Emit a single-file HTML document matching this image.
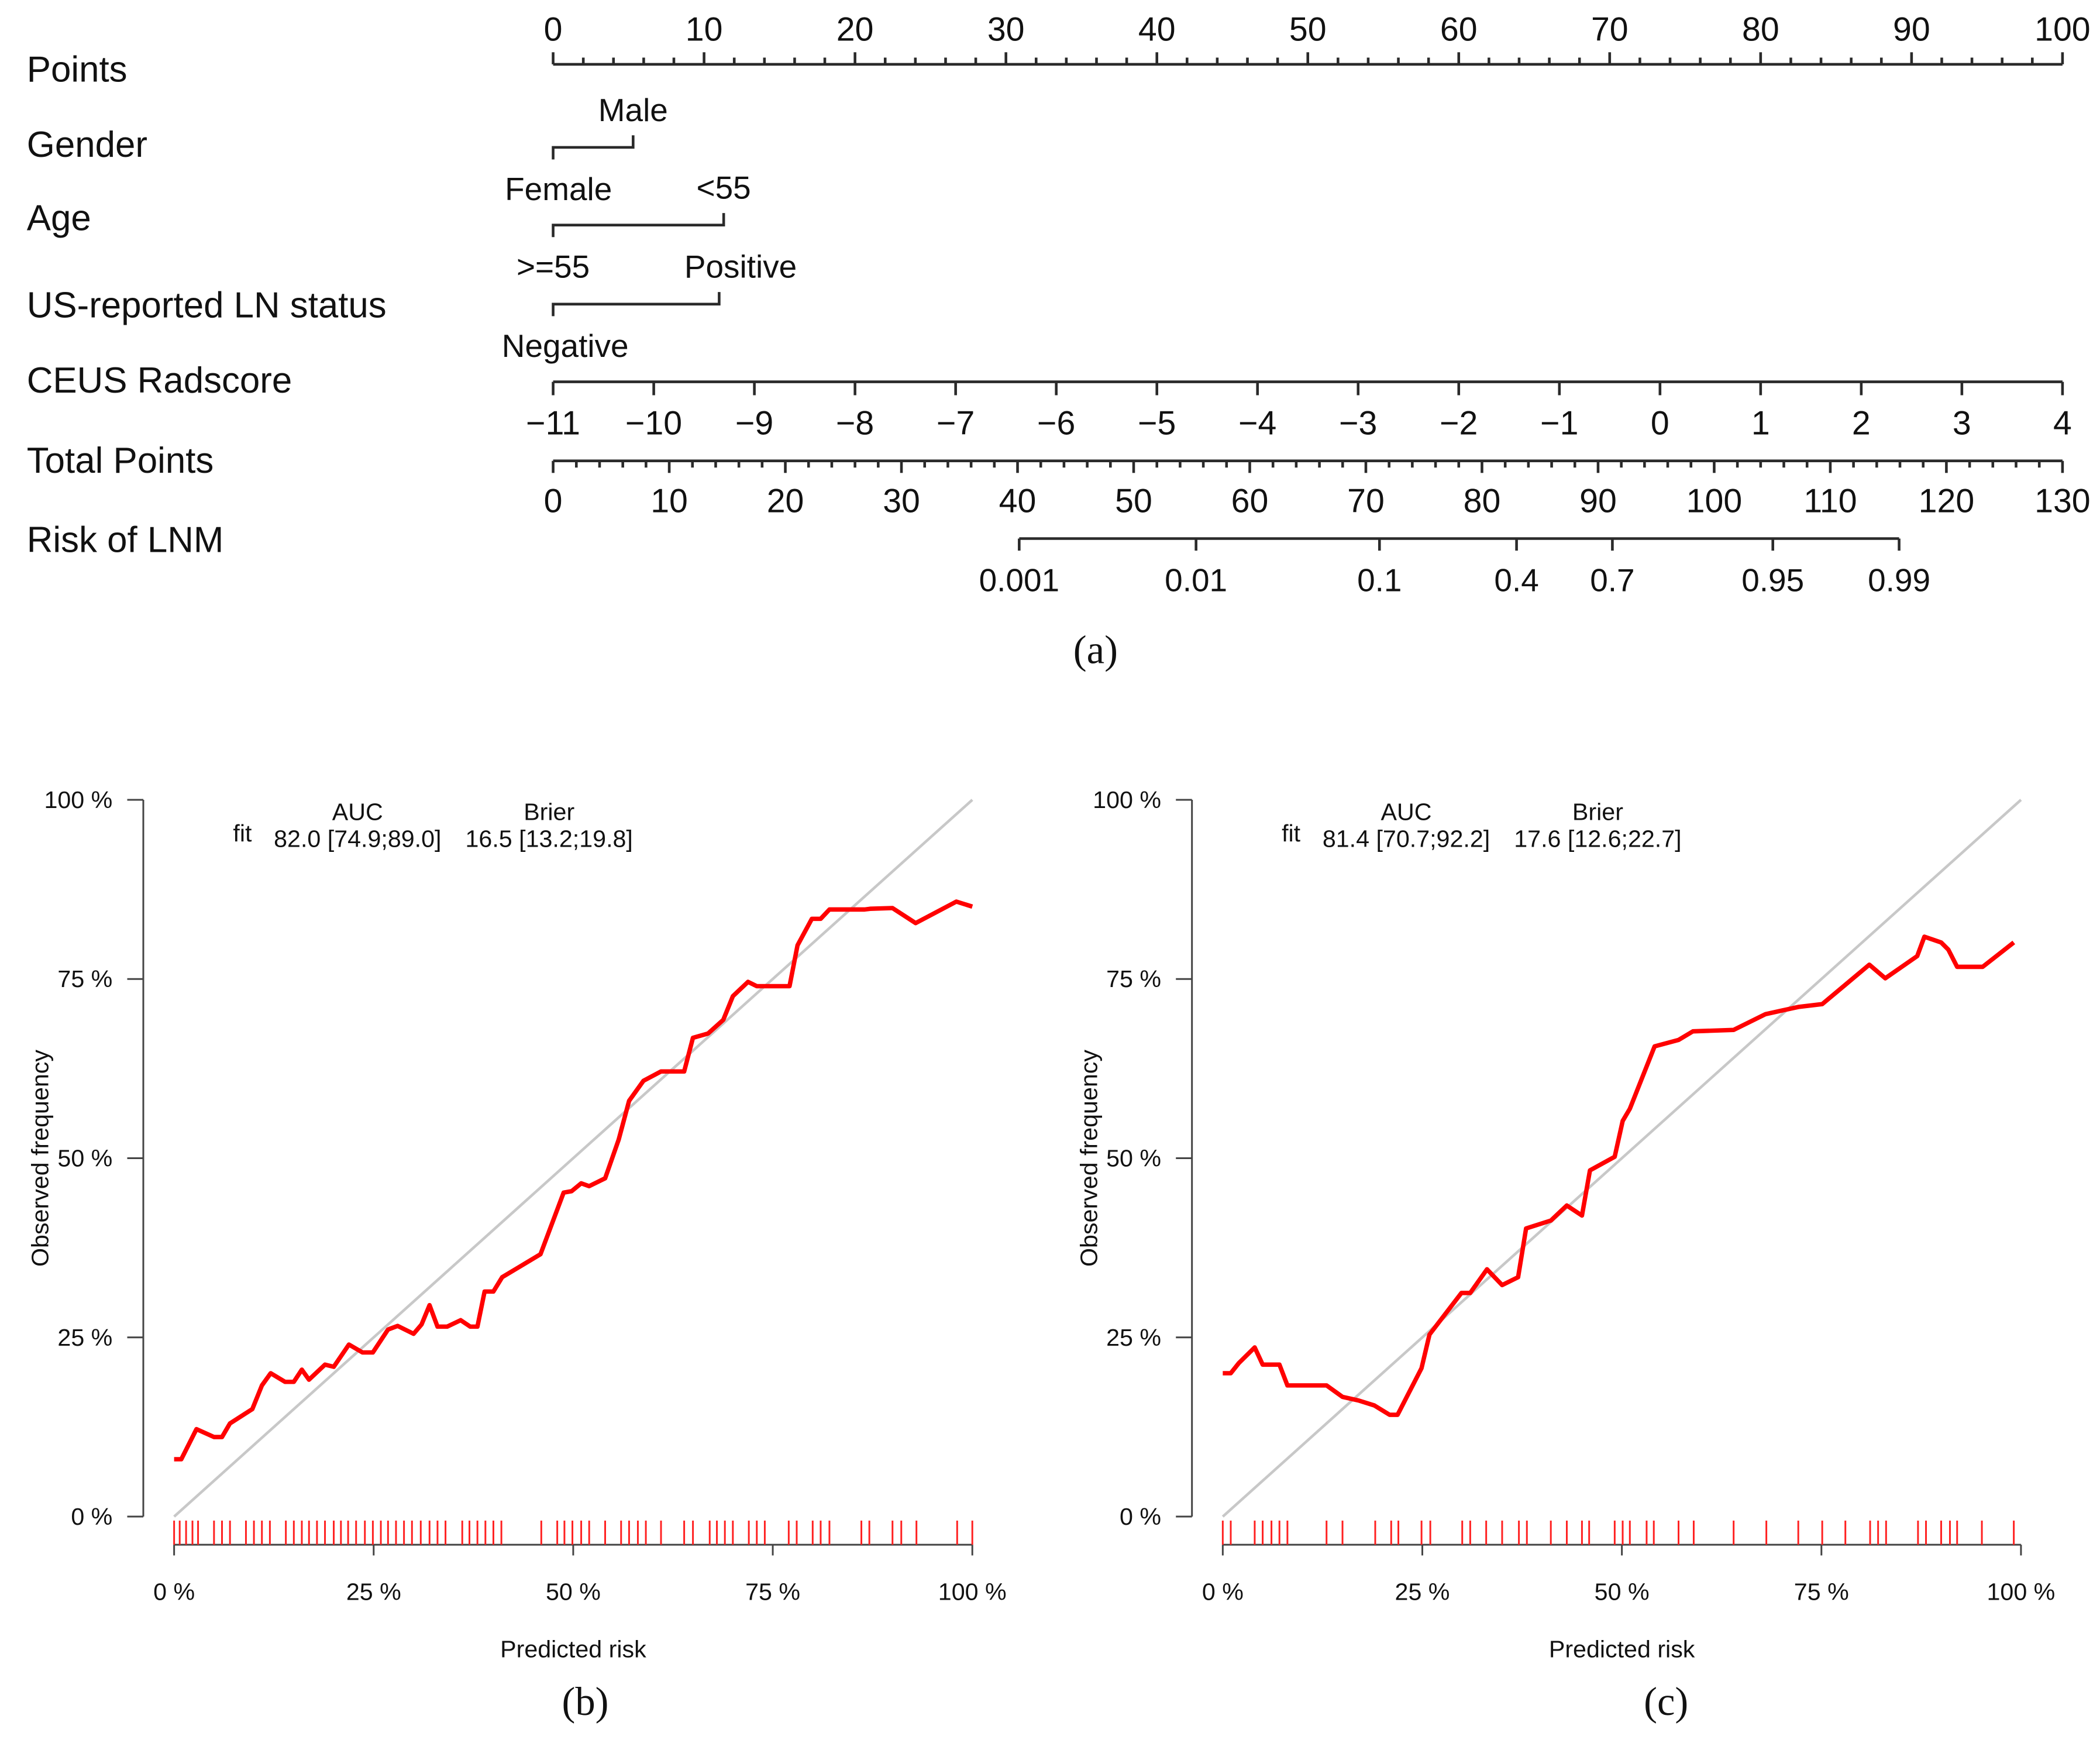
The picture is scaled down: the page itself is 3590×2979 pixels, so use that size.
<!DOCTYPE html>
<html><head><meta charset="utf-8"><style>
html,body{margin:0;padding:0;background:#fff;}
svg{display:block;}
text{font-family:"Liberation Sans",Arial,sans-serif;fill:#111;}
.serif{font-family:"Liberation Serif",serif;}
</style></head><body>
<svg id="fig" xmlns="http://www.w3.org/2000/svg" width="3590" height="2979" viewBox="0 0 1568 1301" preserveAspectRatio="none">
<rect width="1568" height="1301" fill="#fff"/>
<g id="nomo"></g>
<g id="calB"></g>
<g id="calC"></g>
<text class="serif" x="818" y="485" font-size="30" text-anchor="middle" dominant-baseline="central">(a)</text>
<text class="serif" x="437" y="1270" font-size="30" text-anchor="middle" dominant-baseline="central">(b)</text>
<text class="serif" x="1244" y="1270" font-size="30" text-anchor="middle" dominant-baseline="central">(c)</text>
</svg>
<script>
// ---------- Nomogram data ----------
const pointsTicks = [0,10,20,30,40,50,60,70,80,90,100];
const radscoreTicks = [-11,-10,-9,-8,-7,-6,-5,-4,-3,-2,-1,0,1,2,3,4];
const totalTicks = [0,10,20,30,40,50,60,70,80,90,100,110,120,130];
const riskTicks = [0.001,0.01,0.1,0.4,0.7,0.95,0.99];
const riskTickLabels = ["0.001","0.01","0.1","0.4","0.7","0.95","0.99"];
const genderPoints = [0,5.3];      // Female, Male
const agePoints = [0,11.3];        // >=55, <55
const usPoints = [0,11];           // Negative, Positive

// ---------- Calibration data (b) ----------
const predB = [0,0.9,2.8,5,6,7,9.8,11,12.1,13.9,15,16,16.9,18.9,20,21.9,23.6,24.9,26.8,28,30,31,32,33,34.2,35.9,37.1,38,38.9,40,41.1,45.9,48.8,49.8,51,52,54,55.7,57,58.8,61,63.9,65,66.9,68.8,70,71.9,73,77.1,78.1,79.9,81,82.1,86.5,87.2,90,92.9,98,100];
const obsB  = [8,8,12.2,11.1,11.1,13,15,18.3,20,18.8,18.8,20.5,19.1,21.2,20.9,24,22.9,22.9,26.1,26.6,25.5,26.8,29.5,26.5,26.5,27.4,26.5,26.5,31.4,31.4,33.4,36.6,45.2,45.4,46.5,46.1,47.2,52.6,58,60.8,62.1,62.1,66.8,67.4,69.3,72.6,74.6,74,74,79.7,83.4,83.4,84.7,84.7,84.8,84.9,82.8,85.8,85.1];
const rugB = [0,0.7,1.5,2.3,3,5,6,7,9,10,11,12,14,15,16,16.9,17.9,18.9,20,20.9,21.8,22.8,23.9,24.9,25.9,26.8,27.8,28.8,29.8,30.9,32,33,34,36.1,37,38,39,40,41,46,48,48.9,49.9,51,52,54,56,57,58.1,59.1,61,63.9,65,67.1,68,69,70,72,73,74,77,78,80,81,82.1,86.1,87.1,90,91.1,93,98.1,100];
const statsB = ["82.0 [74.9;89.0]","16.5 [13.2;19.8]"];

// ---------- Calibration data (c) ----------
const predC = [0,1,2,4,5,7.1,8.1,13,15,17,19,20.9,21.9,24.9,25.9,29.9,31,33.1,35,37,38,41.1,43.1,45,46,49.1,50.1,51,54.1,57.1,58.9,64,68,72.1,75.1,78,81,83,87,87.9,90,90.9,92,95.2,99.1];
const obsC  = [20,20,21.4,23.6,21.2,21.2,18.3,18.3,16.7,16.2,15.5,14.2,14.2,20.7,25.4,31.2,31.2,34.5,32.3,33.4,40.2,41.3,43.4,42,48.3,50.2,55.2,56.9,65.6,66.5,67.7,67.9,70.1,71.1,71.5,74.2,77,75.1,78.2,80.9,80.1,79.1,76.7,76.7,80.1];
const rugC = [0,1,4,5,6.1,7.1,8.1,13,15,19.1,21.1,22,24.9,26,30,31,33,35,37.1,38.1,41.1,43.1,45,45.9,49.1,50.1,51,53.1,54,57.1,59,64,68.1,72.1,75.1,78,81.1,82.1,83.1,87.1,88.1,90,91.1,92,95.1,99.1];
const statsC = ["81.4 [70.7;92.2]","17.6 [12.6;22.7]"];
const yTickVals = [0,25,50,75,100];
const xTickVals = [0,25,50,75,100];

const NS = "http://www.w3.org/2000/svg";
function mk(parent, tag, attrs, txt){
  const e = document.createElementNS(NS, tag);
  for (const k in attrs) e.setAttribute(k, attrs[k]);
  if (txt !== undefined) e.textContent = txt;
  parent.appendChild(e);
  return e;
}

// ---------- draw nomogram ----------
(function(){
  const g = document.getElementById('nomo');
  const X0 = 413, X1 = 1540;
  const px = v => X0 + (X1 - X0) * v / 100;
  const rx = v => X0 + (X1 - X0) * (v + 11) / 15;
  const tx = v => X0 + (X1 - X0) * v / 130;
  const logit = p => Math.log(p / (1 - p));
  const riskx = p => 761 + (logit(p) - logit(0.001)) * (1418 - 761) / (logit(0.99) - logit(0.001));
  const st = {stroke:'#2a2a2a','stroke-width':2,fill:'none'};

  const rows = [["Points",52],["Gender",108],["Age",163],["US-reported LN status",228],["CEUS Radscore",284],["Total Points",344],["Risk of LNM",403]];
  rows.forEach(r=>{
    const t = mk(g,'text',{x:20,y:r[1],'font-size':27,'dominant-baseline':'central'},r[0]);
    
    
  });

  const pl = mk(g,'line',Object.assign({x1:X0,y1:48,x2:X1,y2:48},st));
  
  
  for (let v=0; v<=100; v+=2){
    const maj = v%10===0;
    const l = mk(g,'line',Object.assign({x1:px(v),y1:48,x2:px(v),y2:maj?39:43},st));
    
    
  }
  pointsTicks.forEach(v=>{
    const t = mk(g,'text',{x:px(v),y:22,'font-size':25,'text-anchor':'middle','dominant-baseline':'central'},String(v));
    
    
  });

  function cat(name, pts, y, labels){
    const a = px(pts[0]), b = px(pts[1]);
    const p = mk(g,'path',Object.assign({d:`M${a},${y+9} L${a},${y} L${b},${y} L${b},${y-9}`},st));
    
    
    const t1 = mk(g,'text',{x:a+labels[0][1],y:y+31,'font-size':24,'text-anchor':'middle','dominant-baseline':'central'},labels[0][0]);
    
    
    const t2 = mk(g,'text',{x:b+labels[1][1],y:y-28,'font-size':24,'text-anchor':'middle','dominant-baseline':'central'},labels[1][0]);
    
    
  }
  cat('gender',genderPoints,110,[["Female",4],["Male",0]]);
  cat('age',agePoints,168,[[">=55",0],["<55",0]]);
  cat('us-ln-status',usPoints,227,[["Negative",9],["Positive",16]]);

  const rl = mk(g,'line',Object.assign({x1:X0,y1:285,x2:X1,y2:285},st));
  
  
  radscoreTicks.forEach(v=>{
    const l = mk(g,'line',Object.assign({x1:rx(v),y1:285,x2:rx(v),y2:295},st));
    
    
    const t = mk(g,'text',{x:rx(v),y:316,'font-size':25,'text-anchor':'middle','dominant-baseline':'central'},v<0?'\u2212'+Math.abs(v):String(v));
    
    
  });

  const tl = mk(g,'line',Object.assign({x1:X0,y1:344,x2:X1,y2:344},st));
  
  
  for (let v=0; v<=130; v+=2){
    const maj = v%10===0;
    const l = mk(g,'line',Object.assign({x1:tx(v),y1:344,x2:tx(v),y2:maj?353:349},st));
    
    
  }
  totalTicks.forEach(v=>{
    const t = mk(g,'text',{x:tx(v),y:374,'font-size':25,'text-anchor':'middle','dominant-baseline':'central'},String(v));
    
    
  });

  const kl = mk(g,'line',Object.assign({x1:riskx(riskTicks[0]),y1:402,x2:riskx(riskTicks[riskTicks.length-1]),y2:402},st));
  
  
  riskTicks.forEach((v,i)=>{
    const l = mk(g,'line',Object.assign({x1:riskx(v),y1:402,x2:riskx(v),y2:411},st));
    
    
    const t = mk(g,'text',{x:riskx(v),y:433,'font-size':24,'text-anchor':'middle','dominant-baseline':'central'},riskTickLabels[i]);
    
    
  });
})();

// ---------- draw calibration plots ----------
function calPlot(gid, ox, pred, obs, rug, stats){
  const g = document.getElementById(gid);
  const xs = v => ox + 596 * v / 100;
  const ys = v => 1132 - 535 * v / 100;
  const yAxisX = ox - 23;
  const FS = 18;
  const ax = mk(g,'line',{x1:yAxisX,y1:ys(0),x2:yAxisX,y2:ys(100),stroke:'#444','stroke-width':1.3});
  
  
  yTickVals.forEach(v=>{
    const l = mk(g,'line',{x1:yAxisX-12,y1:ys(v),x2:yAxisX,y2:ys(v),stroke:'#444','stroke-width':1.3});
    
    
    const t = mk(g,'text',{x:yAxisX-23,y:ys(v),'font-size':FS,'text-anchor':'end','dominant-baseline':'central'},v+' %');
    
    
  });
  const xa = mk(g,'line',{x1:xs(0),y1:1153,x2:xs(100),y2:1153,stroke:'#444','stroke-width':1.3});
  
  
  xTickVals.forEach(v=>{
    const l = mk(g,'line',{x1:xs(v),y1:1153,x2:xs(v),y2:1161,stroke:'#444','stroke-width':1.3});
    
    
    const t = mk(g,'text',{x:xs(v),y:1188,'font-size':FS,'text-anchor':'middle','dominant-baseline':'central'},v+' %');
    
    
  });
  const xt = mk(g,'text',{x:xs(50),y:1231,'font-size':FS,'text-anchor':'middle','dominant-baseline':'central'},'Predicted risk');
  
  
  const ytl = mk(g,'text',{x:0,y:0,'font-size':FS,'text-anchor':'middle','dominant-baseline':'central',transform:`translate(${ox-100},${ys(50)}) rotate(-90)`},'Observed frequency');
  
  
  const dg = mk(g,'line',{x1:xs(0),y1:ys(0),x2:xs(100),y2:ys(100),stroke:'#c8c8c8','stroke-width':2});
  
  
  rug.forEach(v=>{
    const l = mk(g,'line',{x1:xs(v),y1:1135,x2:xs(v),y2:1153,stroke:'#ff2020','stroke-width':1.3});
    
    
  });
  const d = pred.map((p,i)=>(i?'L':'M')+xs(p).toFixed(2)+','+ys(obs[i]).toFixed(2)).join(' ');
  const cl = mk(g,'path',{d:d,fill:'none',stroke:'#ff0000','stroke-width':3.3,'stroke-linejoin':'round'});
  
  
  const h1 = mk(g,'text',{x:ox+137,y:606,'font-size':FS,'text-anchor':'middle','dominant-baseline':'central'},'AUC');
  
  
  const h2 = mk(g,'text',{x:ox+280,y:606,'font-size':FS,'text-anchor':'middle','dominant-baseline':'central'},'Brier');
  
  
  const f = mk(g,'text',{x:ox+51,y:622,'font-size':FS,'text-anchor':'middle','dominant-baseline':'central'},'fit');
  
  
  const s1 = mk(g,'text',{x:ox+137,y:626,'font-size':FS,'text-anchor':'middle','dominant-baseline':'central'},stats[0]);
  
  
  const s2 = mk(g,'text',{x:ox+280,y:626,'font-size':FS,'text-anchor':'middle','dominant-baseline':'central'},stats[1]);
  
  
}
calPlot('calB',130,predB,obsB,rugB,statsB);
calPlot('calC',913,predC,obsC,rugC,statsC);
</script>
</body></html>
